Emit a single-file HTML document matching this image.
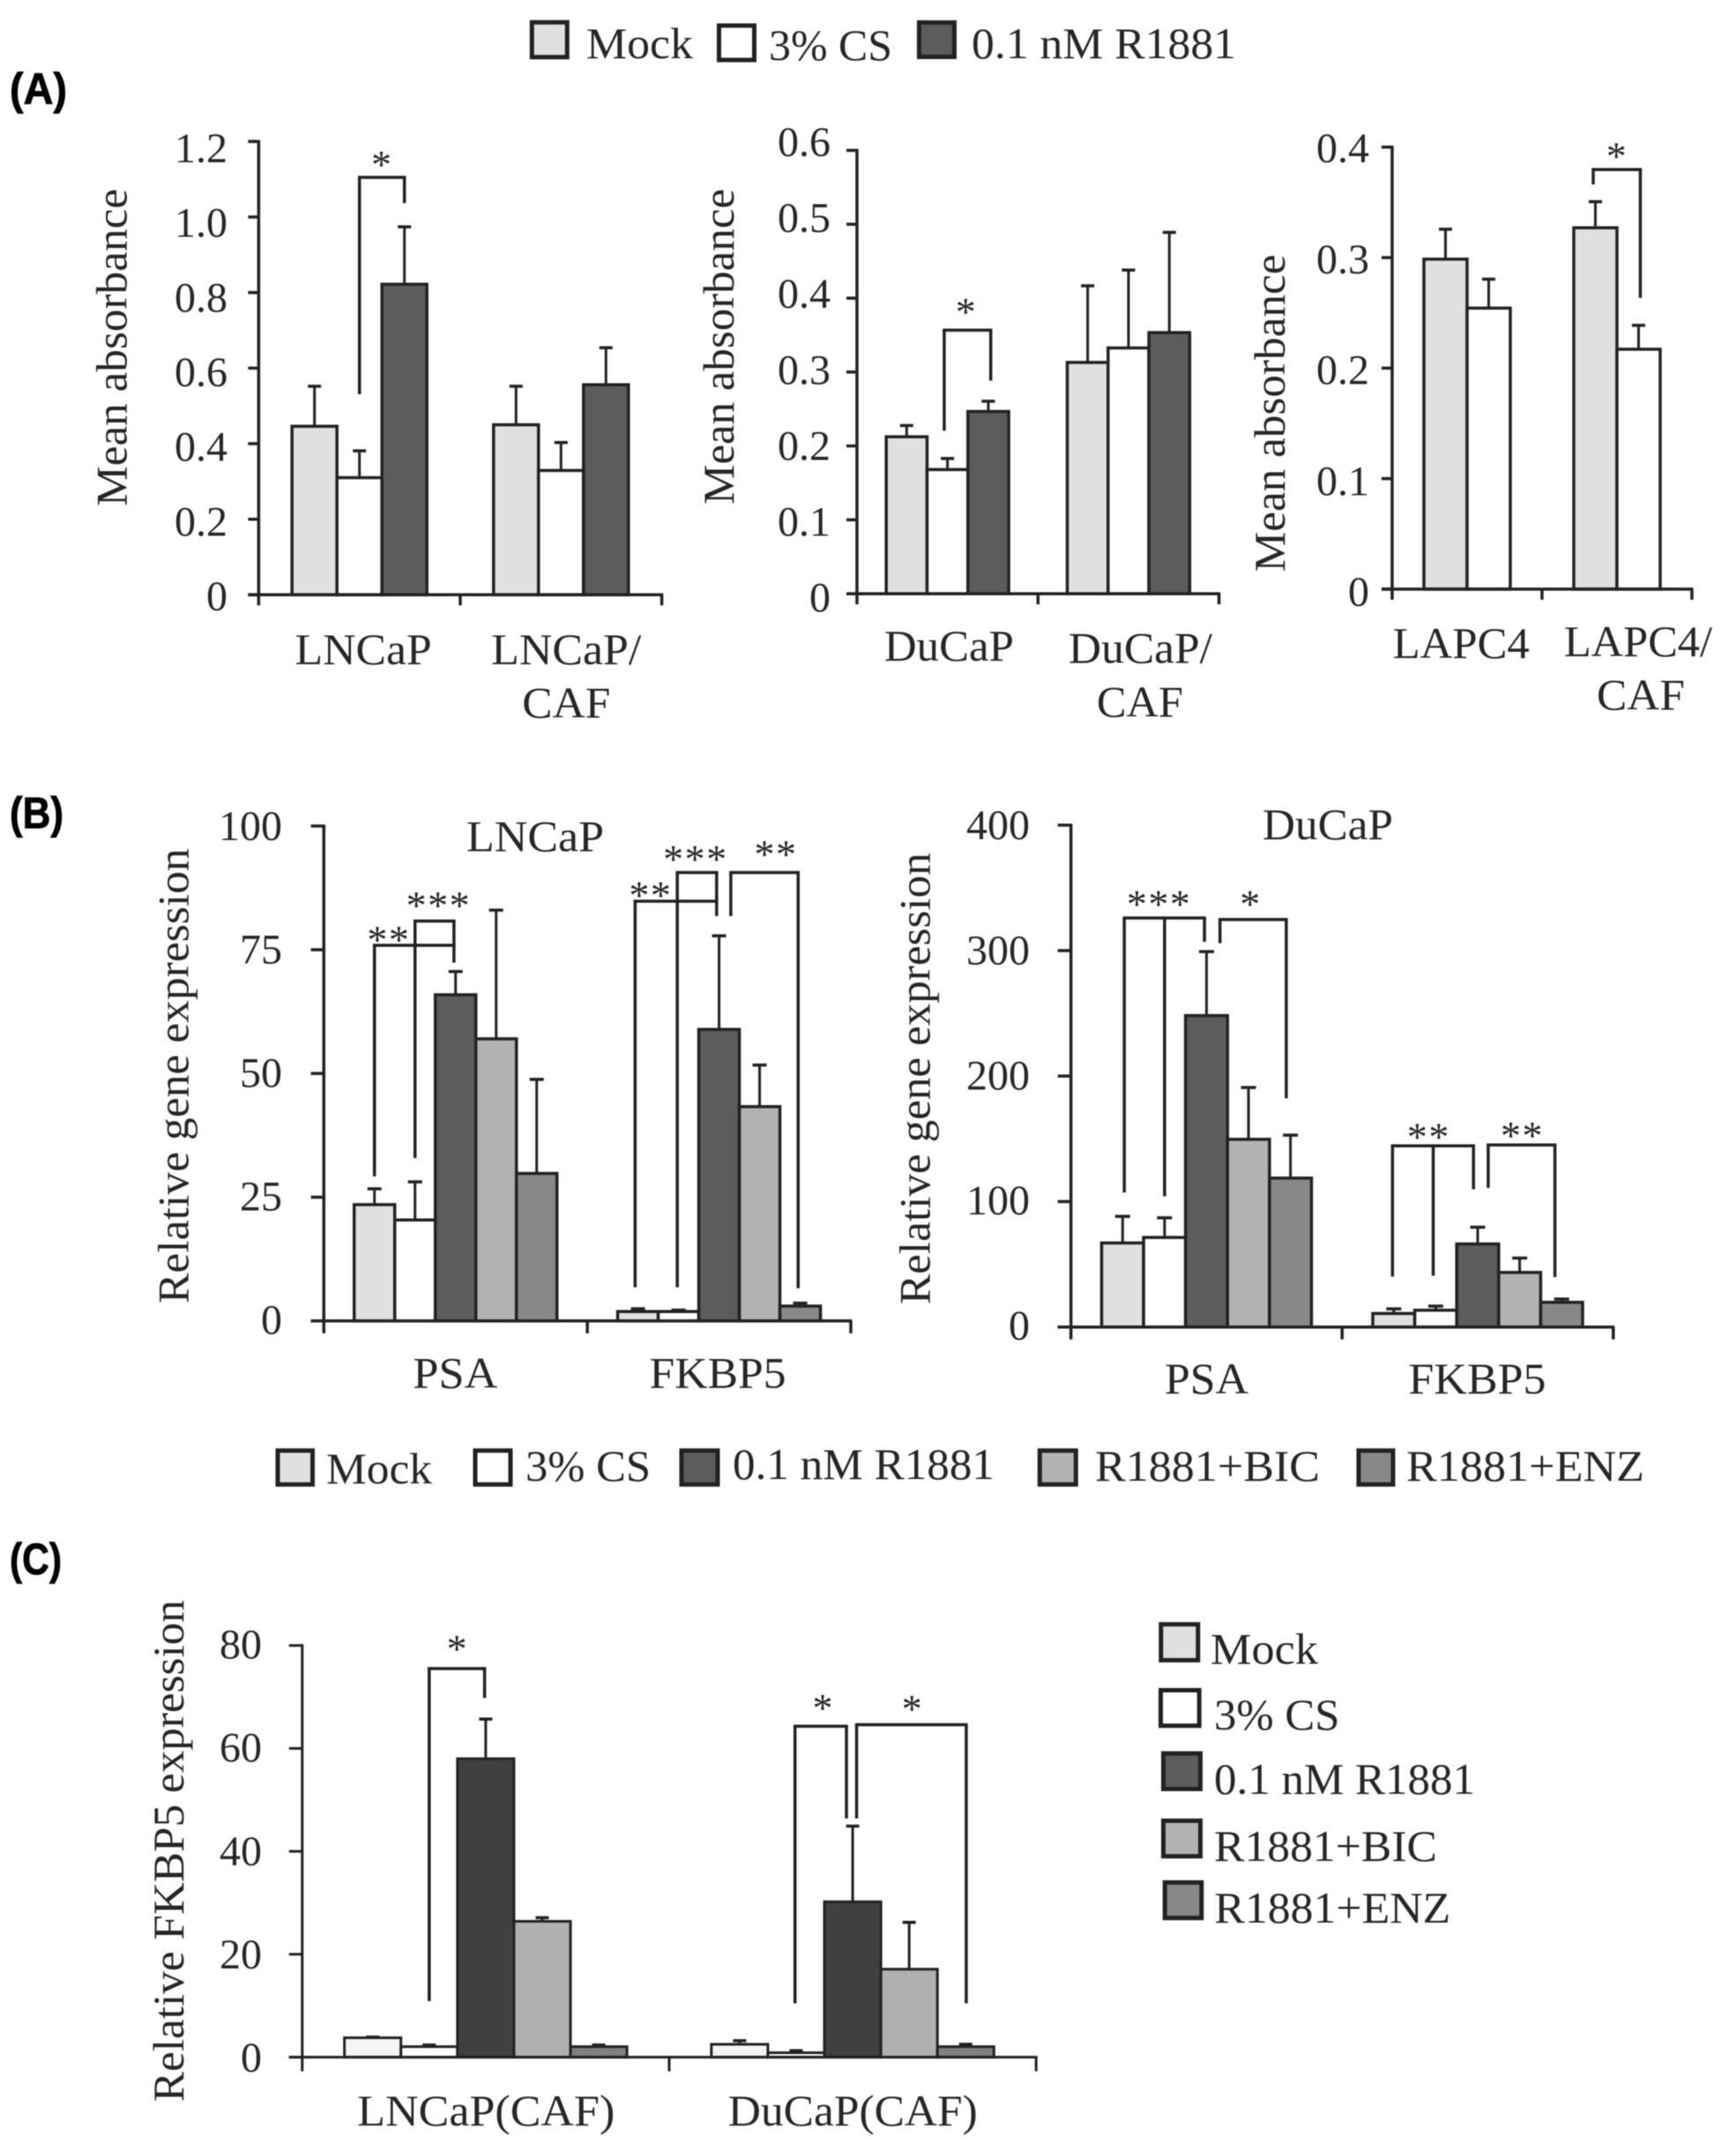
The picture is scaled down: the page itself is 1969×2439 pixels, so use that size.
<!DOCTYPE html>
<html>
<head>
<meta charset="utf-8">
<title>Mean absorbance and gene expression bar charts</title>
<style>
html,body{margin:0;padding:0;background:#fff;}
svg{display:block;filter:blur(0.5px);}
text{font-family:"Liberation Serif","DejaVu Serif",serif;fill:#262626;}
.panel{font-family:"Liberation Sans","DejaVu Sans",sans-serif;font-weight:700;font-size:50px;fill:#000;stroke:#000;stroke-width:0.8px;}
.leg{font-size:50px;}
</style>
</head>
<body>
<svg id="fig" xmlns="http://www.w3.org/2000/svg" width="1969" height="2439" viewBox="0 0 1969 2439">
  <rect x="0" y="0" width="1969" height="2439" fill="#fff"/>
  <text class="panel" x="11" y="118" textLength="65" lengthAdjust="spacingAndGlyphs">(A)</text>
  <text class="panel" x="11" y="939" textLength="61" lengthAdjust="spacingAndGlyphs">(B)</text>
  <text class="panel" x="11" y="1785" textLength="59" lengthAdjust="spacingAndGlyphs">(C)</text>

  <g>
    <rect x="603.3" y="25.3" width="40" height="39.5" fill="#e0e0e0" stroke="#222" stroke-width="5"/>
    <text class="leg" x="665" y="66" textLength="121" lengthAdjust="spacingAndGlyphs">Mock</text>
    <rect x="815.5" y="29" width="40" height="39" fill="#fff" stroke="#222" stroke-width="5"/>
    <text class="leg" x="872" y="68" textLength="140" lengthAdjust="spacingAndGlyphs">3% CS</text>
    <rect x="1042.5" y="25.5" width="40" height="39" fill="#5c5c5c" stroke="#222" stroke-width="5"/>
    <text class="leg" x="1102" y="66" textLength="300" lengthAdjust="spacingAndGlyphs">0.1 nM R1881</text>
  </g>

  <g>
    <rect x="315" y="1644.8" width="39.5" height="38.4" fill="#e0e0e0" stroke="#222" stroke-width="5"/>
    <text class="leg" x="370" y="1682" textLength="120" lengthAdjust="spacingAndGlyphs">Mock</text>
    <rect x="539" y="1644.8" width="40" height="38.4" fill="#fff" stroke="#222" stroke-width="5"/>
    <text class="leg" x="596" y="1679" textLength="142" lengthAdjust="spacingAndGlyphs">3% CS</text>
    <rect x="773" y="1644.8" width="41" height="38.4" fill="#5c5c5c" stroke="#222" stroke-width="5"/>
    <text class="leg" x="831" y="1677" textLength="297" lengthAdjust="spacingAndGlyphs">0.1 nM R1881</text>
    <rect x="1179.3" y="1644.8" width="41" height="38.4" fill="#b2b2b2" stroke="#222" stroke-width="5"/>
    <text class="leg" x="1242" y="1679" textLength="255" lengthAdjust="spacingAndGlyphs">R1881+BIC</text>
    <rect x="1541" y="1644.8" width="39" height="38.4" fill="#888888" stroke="#222" stroke-width="5"/>
    <text class="leg" x="1595" y="1679" textLength="270" lengthAdjust="spacingAndGlyphs">R1881+ENZ</text>
  </g>

  <g>
    <rect x="1316.8" y="1841.8" width="42" height="40.7" fill="#e0e0e0" stroke="#222" stroke-width="5"/>
    <text class="leg" x="1373" y="1886.7" textLength="122" lengthAdjust="spacingAndGlyphs">Mock</text>
    <rect x="1316.5" y="1916.5" width="43.7" height="40.3" fill="#fff" stroke="#222" stroke-width="5"/>
    <text class="leg" x="1377" y="1961" textLength="142.5" lengthAdjust="spacingAndGlyphs">3% CS</text>
    <rect x="1319.5" y="1988.2" width="42" height="40.3" fill="#5c5c5c" stroke="#222" stroke-width="5"/>
    <text class="leg" x="1377" y="2034" textLength="296" lengthAdjust="spacingAndGlyphs">0.1 nM R1881</text>
    <rect x="1319.5" y="2064.5" width="42" height="40.3" fill="#b2b2b2" stroke="#222" stroke-width="5"/>
    <text class="leg" x="1377" y="2110" textLength="253" lengthAdjust="spacingAndGlyphs">R1881+BIC</text>
    <rect x="1321.2" y="2134.5" width="41.6" height="40.3" fill="#888888" stroke="#222" stroke-width="5"/>
    <text class="leg" x="1377.3" y="2180" textLength="268" lengthAdjust="spacingAndGlyphs">R1881+ENZ</text>
  </g>
</svg>
<script>
// ---------- Panel A, LNCaP ----------
const a1Categories = [["LNCaP"], ["LNCaP/", "CAF"]];
const a1TickValues = [0, 0.2, 0.4, 0.6, 0.8, 1.0, 1.2];
const a1TickLabels = ["0", "0.2", "0.4", "0.6", "0.8", "1.0", "1.2"];
const a1Mock = [0.446, 0.45];
const a1MockUpper = [0.552, 0.552];
const a1Cs = [0.31, 0.329];
const a1CsUpper = [0.381, 0.403];
const a1R1881 = [0.822, 0.556];
const a1R1881Upper = [0.974, 0.654];
const a1Brackets = [
  {group: 0, level: 1.105, legs: [[1, 0.531], [2, 1.037]], stars: "*", starBar: 1.5, starValue: 1.154}
];

// ---------- Panel A, DuCaP ----------
const a2Categories = [["DuCaP"], ["DuCaP/", "CAF"]];
const a2TickValues = [0, 0.1, 0.2, 0.3, 0.4, 0.5, 0.6];
const a2TickLabels = ["0", "0.1", "0.2", "0.3", "0.4", "0.5", "0.6"];
const a2Mock = [0.2124, 0.313];
const a2MockUpper = [0.2276, 0.4167];
const a2Cs = [0.168, 0.3326];
const a2CsUpper = [0.183, 0.438];
const a2R1881 = [0.2466, 0.3534];
const a2R1881Upper = [0.2605, 0.489];
const a2Brackets = [
  {group: 0, level: 0.3566, legs: [[0.92, 0.2206], [2.06, 0.2883]], stars: "*", starBar: 1.46, starValue: 0.3895}
];

// ---------- Panel A, LAPC4 ----------
const a3Categories = [["LAPC4"], ["LAPC4/", "CAF"]];
const a3TickValues = [0, 0.1, 0.2, 0.3, 0.4];
const a3TickLabels = ["0", "0.1", "0.2", "0.3", "0.4"];
const a3Mock = [0.2986, 0.327];
const a3MockUpper = [0.3257, 0.3506];
const a3Cs = [0.2543, 0.2171];
const a3CsUpper = [0.2805, 0.2387];
const a3Brackets = [
  {group: 1, level: 0.3797, legs: [[-0.05, 0.3662], [1.04, 0.2636]], stars: "*", starBar: 0.5, starValue: 0.397}
];

// ---------- Panel B, LNCaP ----------
const b1Categories = [["PSA"], ["FKBP5"]];
const b1TickValues = [0, 25, 50, 75, 100];
const b1TickLabels = ["0", "25", "50", "75", "100"];
const b1Mock = [23.5, 1.9];
const b1MockUpper = [26.7, 2.45];
const b1Cs = [20.4, 1.9];
const b1CsUpper = [28.1, 2.2];
const b1R1881 = [65.9, 58.9];
const b1R1881Upper = [70.6, 77.8];
const b1Bic = [57, 43.3];
const b1BicUpper = [83, 51.7];
const b1Enz = [29.8, 3];
const b1EnzUpper = [48.8, 3.6];
const b1Brackets = [
  {group: 0, level: 75.9, legs: [[0, 29.2], [1.96, 72.4]], stars: "**", starBar: 0.35, starValue: 78.2},
  {group: 0, level: 80.8, legs: [[1, 32.9], [1.96, 75.9]], stars: "***", starBar: 1.58, starValue: 85.1},
  {group: 1, level: 84.8, legs: [[-0.07, 6.8], [1.94, 81.8]], stars: "**", starBar: 0.31, starValue: 87.2},
  {group: 1, level: 90.6, legs: [[0.97, 6.8], [1.94, 84.8]], stars: "***", starBar: 1.42, starValue: 94.5},
  {group: 1, level: 90.6, legs: [[2.29, 81.8], [3.95, 6.6]], stars: "**", starBar: 3.4, starValue: 95.5}
];

// ---------- Panel B, DuCaP ----------
const b2Categories = [["PSA"], ["FKBP5"]];
const b2TickValues = [0, 100, 200, 300, 400];
const b2TickLabels = ["0", "100", "200", "300", "400"];
const b2Mock = [67, 10.8];
const b2MockUpper = [88.2, 14.5];
const b2Cs = [71.4, 13.4];
const b2CsUpper = [87, 16.7];
const b2R1881 = [248.2, 66.2];
const b2R1881Upper = [299.2, 79.6];
const b2Bic = [149.6, 43.5];
const b2BicUpper = [190.9, 55];
const b2Enz = [118.7, 19.7];
const b2EnzUpper = [152.9, 22.3];
const b2Brackets = [
  {group: 0, level: 326, legs: [[0.04, 107.2], [1, 104.2], [1.95, 307]], stars: "***", starBar: 0.87, starValue: 341.6},
  {group: 0, level: 324.8, legs: [[2.32, 305.9], [3.9, 182.3]], stars: "*", starBar: 3.05, starValue: 341.6},
  {group: 1, level: 144.4, legs: [[-0.03, 40.2], [0.94, 40.9], [1.9, 109.8]], stars: "**", starBar: 0.83, starValue: 156.3},
  {group: 1, level: 145.1, legs: [[2.25, 110.9], [3.84, 39.8]], stars: "**", starBar: 3.06, starValue: 157.4}
];

// ---------- Panel C ----------
const c1Categories = [["LNCaP(CAF)"], ["DuCaP(CAF)"]];
const c1TickValues = [0, 20, 40, 60, 80];
const c1TickLabels = ["0", "20", "40", "60", "80"];
const c1Mock = [3.77, 2.5];
const c1MockUpper = [3.9, 3.2];
const c1Cs = [2.04, 0.86];
const c1CsUpper = [2.36, 1.26];
const c1R1881 = [58, 30.2];
const c1R1881Upper = [65.7, 44.9];
const c1Bic = [26.4, 17.1];
const c1BicUpper = [27.1, 26.2];
const c1Enz = [2.04, 2.04];
const c1EnzUpper = [2.36, 2.5];
const c1Brackets = [
  {group: 0, level: 75.5, legs: [[1, 10.9], [1.98, 69.8]], stars: "*", starBar: 1.5, starValue: 80.5},
  {group: 1, level: 64.3, legs: [[0.98, 10.45], [1.89, 46.4]], stars: "*", starBar: 1.48, starValue: 69},
  {group: 1, level: 64.6, legs: [[2.07, 46.4], [4.01, 10.45]], stars: "*", starBar: 3.06, starValue: 68.8}
];

const SVG_NS = "http://www.w3.org/2000/svg";
const INK = "#222";
const seriesNames = ["mock", "cs", "r1881", "bic", "enz"];

function mk(tag, attrs, parent, content) {
  const node = document.createElementNS(SVG_NS, tag);
  for (const k in attrs) node.setAttribute(k, attrs[k]);
  if (content !== undefined) node.textContent = content;
  parent.appendChild(node);
  return node;
}

function drawChart(cfg) {
  const root = document.getElementById("fig");
  const g = mk("g", {}, root);
  
  

  const maxV = cfg.tickValues[cfg.tickValues.length - 1];
  const y = v => cfg.y0 - (v / maxV) * (cfg.y0 - cfg.yTop);
  const nGroups = cfg.categories.length;
  const bandW = (cfg.x1 - cfg.x0) / nGroups;
  const nSeries = cfg.values.length;
  const x = (group, bar) => cfg.x0 + bandW * (group + 0.5) + (bar - (nSeries - 1) / 2) * cfg.barW;
  const sw = cfg.sw || 3.5;

  // bars and error bars
  cfg.values.forEach((series, s) => {
    series.forEach((val, c) => {
      const cx = x(c, s);
      const up = cfg.uppers[s][c];
      const stem = mk("line", {x1: cx, x2: cx, y1: y(val), y2: y(up), stroke: INK, "stroke-width": 3}, g);
      
      
      const cap = mk("line", {x1: cx - cfg.cap / 2, x2: cx + cfg.cap / 2, y1: y(up), y2: y(up), stroke: INK, "stroke-width": 3.5}, g);
      
      
      const bar = mk("rect", {x: cx - cfg.barW / 2, y: y(val), width: cfg.barW, height: cfg.y0 - y(val), fill: cfg.colors[s], stroke: INK, "stroke-width": sw}, g);
      
      
    });
  });

  // axes
  const yAxis = mk("line", {x1: cfg.x0, x2: cfg.x0, y1: cfg.yTop - 1.5, y2: cfg.y0 + cfg.xTick, stroke: INK, "stroke-width": sw}, g);
  
  
  const xAxis = mk("line", {x1: cfg.x0 - cfg.yTick, x2: cfg.x1 + 1.5, y1: cfg.y0, y2: cfg.y0, stroke: INK, "stroke-width": sw}, g);
  
  

  cfg.tickValues.forEach((v, i) => {
    const t = mk("line", {x1: cfg.x0 - cfg.yTick, x2: cfg.x0, y1: y(v), y2: y(v), stroke: INK, "stroke-width": sw}, g);
    
    
    const base = cfg.labelBase0 + (cfg.labelBaseTop - cfg.labelBase0) * (v / maxV);
    const lab = mk("text", {x: cfg.labelRight, y: base, "text-anchor": "end", "font-size": 48}, g, cfg.tickLabels[i]);
    
    
  });
  for (let i = 1; i <= nGroups; i++) {
    const tx = cfg.x0 + bandW * i;
    const t = mk("line", {x1: tx, x2: tx, y1: cfg.y0, y2: cfg.y0 + cfg.xTick, stroke: INK, "stroke-width": sw}, g);
    
    
  }

  // category labels
  cfg.categories.forEach((lines, c) => {
    lines.forEach((line, l) => {
      const place = cfg.catPlace[c][l];
      const lab = mk("text", {x: cfg.x0 + bandW * (c + 0.5) + place[0], y: place[1], "text-anchor": "middle", "font-size": 50, textLength: place[2], lengthAdjust: "spacingAndGlyphs"}, g, line);
      
      
    });
  });

  // y axis title
  const title = mk("text", {transform: "translate(" + cfg.title[1] + "," + cfg.title[2] + ") rotate(-90)", "text-anchor": "middle", "font-size": 50, textLength: cfg.title[3], lengthAdjust: "spacingAndGlyphs"}, g, cfg.title[0]);
  
  

  // chart heading
  if (cfg.heading) {
    const h = mk("text", {x: cfg.heading[1], y: cfg.heading[2], "font-size": 50, textLength: cfg.heading[3], lengthAdjust: "spacingAndGlyphs"}, g, cfg.heading[0]);
    
    
  }

  // significance brackets, placed in data coordinates
  cfg.brackets.forEach(b => {
    const xs = b.legs.map(l => x(b.group, l[0]));
    const top = mk("line", {x1: Math.min.apply(null, xs) - 1.75, x2: Math.max.apply(null, xs) + 1.75, y1: y(b.level), y2: y(b.level), stroke: INK, "stroke-width": 3.5}, g);
    
    
    b.legs.forEach((leg, i) => {
      const l = mk("line", {x1: xs[i], x2: xs[i], y1: y(b.level), y2: y(leg[1]), stroke: INK, "stroke-width": 3.5}, g);
      
      
    });
    const star = mk("text", {x: x(b.group, b.starBar), y: y(b.starValue) + 22, "text-anchor": "middle", "font-size": 46, "letter-spacing": 1.5}, g, b.stars);
    
    
  });
}

const colorsA = ["#e0e0e0", "#ffffff", "#5c5c5c"];
const colorsB = ["#e0e0e0", "#ffffff", "#5c5c5c", "#b2b2b2", "#888888"];
const colorsC = ["#f5f5f5", "#ffffff", "#404040", "#b0b0b0", "#808080"];

drawChart({id: "a-lncap", categories: a1Categories, tickValues: a1TickValues, tickLabels: a1TickLabels,
  values: [a1Mock, a1Cs, a1R1881], uppers: [a1MockUpper, a1CsUpper, a1R1881Upper], brackets: a1Brackets,
  colors: colorsA, x0: 293.4, x1: 750.6, y0: 674.4, yTop: 160.4, barW: 51, cap: 15, yTick: 12, xTick: 12,
  labelRight: 258, labelBase0: 692, labelBaseTop: 184,
  catPlace: [[[4.5, 753, 155]], [[6, 753, 170], [6, 813.6, 100]]],
  title: ["Mean absorbance", 143.5, 394, 360]});

drawChart({id: "a-ducap", categories: a2Categories, tickValues: a2TickValues, tickLabels: a2TickLabels,
  values: [a2Mock, a2Cs, a2R1881], uppers: [a2MockUpper, a2CsUpper, a2R1881Upper], brackets: a2Brackets,
  colors: colorsA, x0: 972, x1: 1382.6, y0: 673.2, yTop: 170.5, barW: 46.3, cap: 15, yTick: 12, xTick: 12,
  labelRight: 942, labelBase0: 693.5, labelBaseTop: 177,
  catPlace: [[[1.8, 749, 147]], [[13.5, 751.7, 163], [13, 812.6, 98]]],
  title: ["Mean absorbance", 832, 393, 358]});

drawChart({id: "a-lapc4", categories: a3Categories, tickValues: a3TickValues, tickLabels: a3TickLabels,
  values: [a3Mock, a3Cs], uppers: [a3MockUpper, a3CsUpper], brackets: a3Brackets,
  colors: colorsA, x0: 1579, x1: 1919, y0: 668, yTop: 166.8, barW: 49, cap: 15, yTick: 12, xTick: 12,
  labelRight: 1553, labelBase0: 687, labelBaseTop: 184,
  catPlace: [[[-6.7, 746, 155]], [[24, 744, 168], [27, 804.6, 100]]],
  title: ["Mean absorbance", 1457, 468.5, 360]});

drawChart({id: "b-lncap", categories: b1Categories, tickValues: b1TickValues, tickLabels: b1TickLabels,
  values: [b1Mock, b1Cs, b1R1881, b1Bic, b1Enz], uppers: [b1MockUpper, b1CsUpper, b1R1881Upper, b1BicUpper, b1EnzUpper], brackets: b1Brackets,
  colors: colorsB, x0: 367.3, x1: 965, y0: 1497.8, yTop: 936.6, barW: 46, cap: 16, yTick: 14.7, xTick: 14,
  labelRight: 320, labelBase0: 1512.6, labelBaseTop: 952.5,
  catPlace: [[[-0.3, 1573.5, 96]], [[-1.5, 1573.5, 155]]],
  title: ["Relative gene expression", 213.6, 1220, 516],
  heading: ["LNCaP", 529, 965, 156]});

drawChart({id: "b-ducap", categories: b2Categories, tickValues: b2TickValues, tickLabels: b2TickLabels,
  values: [b2Mock, b2Cs, b2R1881, b2Bic, b2Enz], uppers: [b2MockUpper, b2CsUpper, b2R1881Upper, b2BicUpper, b2EnzUpper], brackets: b2Brackets,
  colors: colorsB, x0: 1214.7, x1: 1829.8, y0: 1504.7, yTop: 935.6, barW: 47.6, cap: 17, yTick: 15, xTick: 14,
  labelRight: 1168, labelBase0: 1519, labelBaseTop: 951.5,
  catPlace: [[[0, 1580, 95]], [[-0.5, 1580, 156]]],
  title: ["Relative gene expression", 1054.4, 1223, 512],
  heading: ["DuCaP", 1432, 951.5, 148]});

drawChart({id: "c-fkbp5", categories: c1Categories, tickValues: c1TickValues, tickLabels: c1TickLabels,
  values: [c1Mock, c1Cs, c1R1881, c1Bic, c1Enz], uppers: [c1MockUpper, c1CsUpper, c1R1881Upper, c1BicUpper, c1EnzUpper], brackets: c1Brackets,
  colors: colorsC, x0: 342.8, x1: 1175.2, y0: 2332.6, yTop: 1865.8, barW: 64.1, cap: 15, yTick: 15, xTick: 16, sw: 3,
  labelRight: 297, labelBase0: 2349, labelBaseTop: 1880.5,
  catPlace: [[[0.4, 2410, 292]], [[0.2, 2410, 283]]],
  title: ["Relative FKBP5 expression", 208, 2098.7, 569]});
</script>
</body>
</html>
